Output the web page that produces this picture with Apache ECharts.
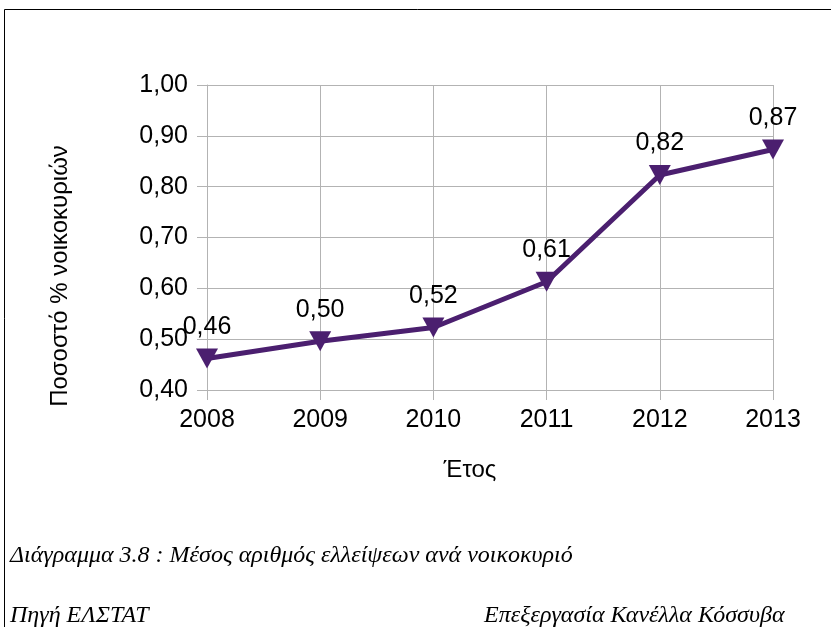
<!DOCTYPE html>
<html>
<head>
<meta charset="utf-8">
<script src="https://cdn.jsdelivr.net/npm/echarts@6/dist/echarts.min.js"></script>
<style>
  html, body { margin: 0; padding: 0; background: #fff; }
  #main { width: 831px; height: 627px; }
</style>
</head>
<body>
<div id="main"></div>
<script>
// years and mean share of households in arrears
const years = ['2008', '2009', '2010', '2011', '2012', '2013'];
const values = [0.462, 0.496, 0.523, 0.613, 0.823, 0.873];
const yTicks = [0.4, 0.5, 0.6, 0.7, 0.8, 0.9, 1.0];

const purple = '#4b1f6f';
const gridGray = '#b3b3b3';

function comma(v) {
    return v.toFixed(2).replace('.', ',');
}

let el = document.getElementById('main');
let myChart = echarts.init(el);

myChart.setOption({
    animation: false,
    grid: { left: 207, right: 58, top: 85, bottom: 237 },
    xAxis: {
        type: 'category',
        data: years,
        boundaryGap: false,
        axisLine: { lineStyle: { color: gridGray, width: 1 } },
        axisTick: { show: true, length: 10, lineStyle: { color: gridGray } },
        axisLabel: { fontFamily: 'Liberation Sans', fontSize: 25, color: '#000', margin: 18 },
        splitLine: { show: true, lineStyle: { color: gridGray, width: 1 } }
    },
    yAxis: {
        type: 'value',
        min: yTicks[0],
        max: yTicks[yTicks.length - 1],
        interval: 0.1,
        axisLine: { show: true, lineStyle: { color: gridGray, width: 1 } },
        axisTick: { show: true, length: 10, lineStyle: { color: gridGray } },
        axisLabel: {
            fontFamily: 'Liberation Sans', fontSize: 25, color: '#000', margin: 19,
            formatter: (v) => comma(v)
        },
        splitLine: { show: true, lineStyle: { color: gridGray, width: 1 } }
    },
    series: [{
        type: 'line',
        data: values,
        symbol: 'triangle',
        symbolRotate: 180,
        symbolSize: [22, 20],
        lineStyle: { color: purple, width: 5 },
        itemStyle: { color: purple },
        label: {
            show: true,
            position: 'top',
            distance: 9,
            fontFamily: 'Liberation Sans',
            fontSize: 25,
            color: '#000',
            formatter: (p) => comma(p.value)
        }
    }],
    graphic: [
        { type: 'line', shape: { x1: 4.5, y1: 9.5, x2: 831, y2: 9.5 }, style: { stroke: '#000', lineWidth: 1 } },
        { type: 'line', shape: { x1: 4.5, y1: 9.5, x2: 4.5, y2: 627 }, style: { stroke: '#000', lineWidth: 1 } },
        {
            type: 'text', x: 60, y: 276, rotation: Math.PI / 2,
            style: {
                text: 'Ποσοστό % νοικοκυριών', font: '24px "Liberation Sans"', fill: '#000',
                align: 'center', verticalAlign: 'middle'
            }
        },
        {
            type: 'text', x: 470, y: 470,
            style: {
                text: 'Έτος', font: '24px "Liberation Sans"', fill: '#000',
                align: 'center', verticalAlign: 'middle'
            }
        },
        {
            type: 'text', left: 10, top: 544,
            style: { text: 'Διάγραμμα 3.8 : Μέσος αριθμός ελλείψεων ανά νοικοκυριό', font: 'italic 24px "Liberation Serif"', fill: '#000' }
        },
        {
            type: 'text', left: 10, top: 604,
            style: { text: 'Πηγή ΕΛΣΤΑΤ', font: 'italic 24px "Liberation Serif"', fill: '#000' }
        },
        {
            type: 'text', left: 484, top: 604,
            style: { text: 'Επεξεργασία Κανέλλα Κόσσυβα', font: 'italic 24px "Liberation Serif"', fill: '#000' }
        }
    ]
});
</script>
</body>
</html>
